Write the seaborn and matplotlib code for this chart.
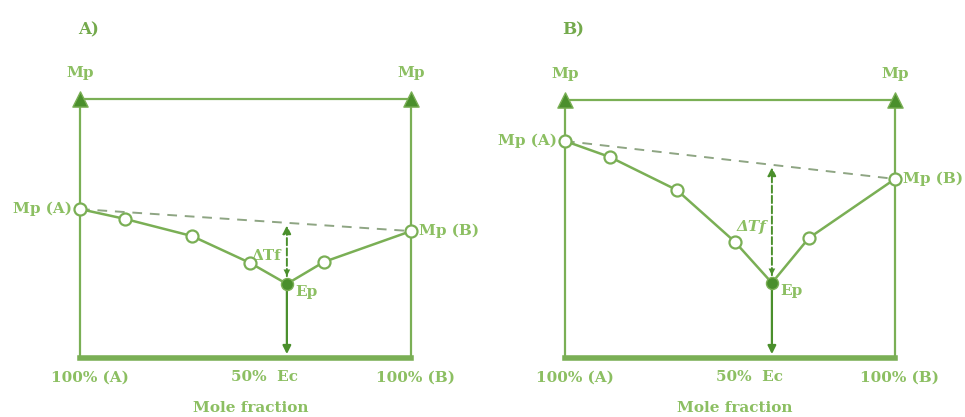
import matplotlib
matplotlib.use("Agg")
import matplotlib.pyplot as plt
import seaborn as sns
import numpy as np
import pandas as pd

# mole fraction of B (0 = 100% A, 1 = 100% B) and melting temperature (arbitrary units)
frac_a = [0.0, 0.136, 0.338, 0.514, 0.625, 0.737, 1.0]
temp_a = [57.5, 53.7, 47.1, 36.7, 28.6, 37.1, 49.0]
frac_b = [0.0, 0.136, 0.339, 0.515, 0.627, 0.739, 1.0]
temp_b = [84.1, 77.9, 65.1, 45.0, 29.1, 46.5, 69.4]
eutectic_idx = 4
panel_names = ["A)", "B)"]
tick_labels = ["100% (A)", "50%  Ec", "100% (B)"]

LINE = "#7aaf55"
TEXT = "#8cbf62"
DARK = "#4a8f2c"
DASH = "#8ea583"

sns.set_theme(style="white")
plt.rcParams['font.family'] = ['DejaVu Serif']

fig = plt.figure(figsize=(9.65, 4.17), dpi=100)
W, H = 965, 417
boxes = [(80, 99, 411, 358), (565, 100, 895, 358)]
title_pos = [(78, 30), (562, 30)]

for k, (fr, tp) in enumerate([(frac_a, temp_a), (frac_b, temp_b)]):
    x0, y0, x1, y1 = boxes[k]
    ax = fig.add_axes([x0 / W, 1 - y1 / H, (x1 - x0) / W, (y1 - y0) / H])
    ax.set_xlim(0, 1)
    ax.set_ylim(0, 100)
    ax.set_xticks([])
    ax.set_yticks([])
    for s in ["left", "right", "top"]:
        ax.spines[s].set_color(LINE)
        ax.spines[s].set_linewidth(1.6)
    ax.spines["bottom"].set_color(LINE)
    ax.spines["bottom"].set_linewidth(4)

    df = pd.DataFrame({"x": fr, "T": tp})
    sns.lineplot(data=df, x="x", y="T", sort=False, color=LINE, lw=1.8, ax=ax, zorder=3)
    # tie line between pure melting points
    ax.plot([fr[0], fr[-1]], [tp[0], tp[-1]], ls=(0, (5, 4)), color=DASH, lw=1.4, zorder=2)
    open_pts = df.drop(index=eutectic_idx)
    ax.scatter(open_pts["x"], open_pts["T"], s=75, facecolor="white", edgecolor=LINE,
               linewidth=1.6, zorder=5, clip_on=False)
    ex, et = fr[eutectic_idx], tp[eutectic_idx]
    ax.scatter([ex], [et], s=75, color=DARK, edgecolor=LINE, linewidth=1, zorder=6)
    # triangles at the top corners
    ax.scatter([0, 1], [100, 100], marker="^", s=120, color=DARK, edgecolor=LINE,
               zorder=6, clip_on=False)

    tie_y = tp[0] + (tp[-1] - tp[0]) * ex
    ax.annotate("", xy=(ex, tie_y - 1), xytext=(ex, et + 3),
                arrowprops=dict(arrowstyle="-|>", color=DARK, lw=1.4, ls="--",
                                mutation_scale=12, shrinkA=0, shrinkB=0), zorder=4)
    ax.annotate("", xy=(ex, et + 3), xytext=(ex, tie_y - 1),
                arrowprops=dict(arrowstyle="-|>", color=DARK, lw=0, mutation_scale=12,
                                shrinkA=0, shrinkB=0), zorder=4)
    ax.annotate("", xy=(ex, 1.5), xytext=(ex, et - 2),
                arrowprops=dict(arrowstyle="-|>", color=DARK, lw=1.6,
                                mutation_scale=12, shrinkA=0, shrinkB=0), zorder=4)

    tf = dict(color=TEXT, fontweight="bold", fontsize=11)
    ax.annotate("ΔTf", (ex, (tie_y + et) / 2), xytext=(-4, -2), textcoords="offset points",
                ha="right", va="center", style="italic" if k else "normal", **tf)
    ax.annotate("Ep", (ex, et), xytext=(6, -6), textcoords="offset points",
                ha="left", va="center", **tf)
    ax.annotate("Mp (A)", (0, tp[0]), xytext=(-6, 0), textcoords="offset points",
                ha="right", va="center", **tf)
    ax.annotate("Mp (B)", (1, tp[-1]), xytext=(6, 0), textcoords="offset points",
                ha="left", va="center", annotation_clip=False, **tf)
    for xm in [0, 1]:
        ax.annotate("Mp", (xm, 100), xytext=(0, 14), textcoords="offset points",
                    ha="center", va="bottom", **tf)
    for xt, lab, dx in zip([0, ex, 1], tick_labels, [7, -16, 3]):
        ax.annotate(lab, (xt, 0), xytext=(dx, -14), textcoords="offset points",
                    ha="center", va="center", **tf)
    ax.annotate("Mole fraction", (0.515, 0), xytext=(0, -36), textcoords="offset points",
                ha="center", va="center", **tf)
    fig.text(title_pos[k][0] / W, 1 - title_pos[k][1] / H, panel_names[k],
             color="#74aa4c", fontweight="bold", fontsize=12,
             va="center", ha="left")

fig.savefig("out.png", dpi=100, facecolor="white")
